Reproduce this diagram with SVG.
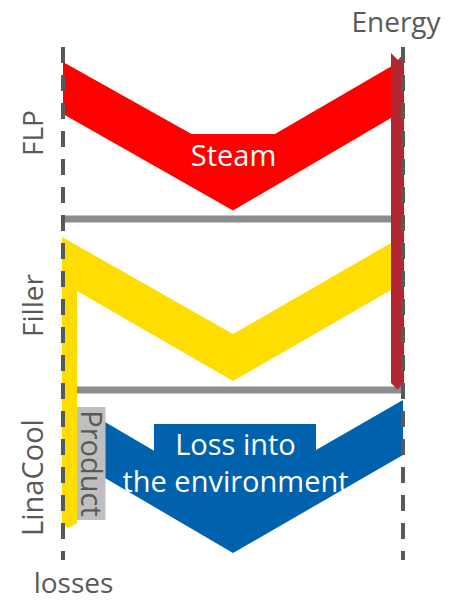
<svg xmlns="http://www.w3.org/2000/svg" width="449" height="601" viewBox="0 0 449 601">
<style>
.lbl{font-family:"Open Sans","Liberation Sans",sans-serif;font-size:29px;fill:#595959}
.wt{font-family:"Open Sans","Liberation Sans",sans-serif;font-size:29px;fill:#ffffff}
.axis{stroke:#595959;stroke-width:4;stroke-dasharray:16 12;fill:none}
.sep{stroke:#8c8c8c;stroke-width:7;fill:none}
</style>
<rect width="449" height="601" fill="#ffffff"/>
<g id="connectors">
<line class="sep" x1="63" y1="219" x2="391" y2="219"/>
<line class="sep" x1="63" y1="390" x2="403" y2="390"/>
</g>
<g id="steam">
<polygon points="63,62 191.5,134 275,134 391,66.5 391,118 233,210.5 63,114" fill="#ff0000"/>
<text class="wt" x="233.5" y="165.5" text-anchor="middle">Steam</text>
</g>
<g id="filler-flow">
<polygon points="62,237 233,334 391,243 391,290 233,381 77,291 77,523 68,528 62,524" fill="#ffdd00"/>
</g>
<g id="loss">
<polygon points="105,422 154,450.7 154,424 316,424 316,450 403,400 403,455 233,553 105,478" fill="#0062ad"/>
<text class="wt" x="235.5" y="455" text-anchor="middle">Loss into</text>
<text class="wt" x="235.5" y="491.5" text-anchor="middle">the environment</text>
</g>
<g id="energy-bar">
<polygon points="391,53 398,60 404,53 404,383 397.5,389.5 391,383" fill="#b2262f"/>
</g>
<g id="product">
<rect x="77" y="407" width="28.5" height="113" fill="#bfbfbf"/>
<text class="lbl" transform="translate(80.5,463.5) rotate(90)" text-anchor="middle">Product</text>
</g>
<g id="axes">
<line class="axis" x1="63" y1="47" x2="63" y2="560"/>
<line class="axis" x1="403" y1="47" x2="403" y2="560"/>
</g>
<g id="labels">
<text class="lbl" x="396" y="31.5" text-anchor="middle" style="font-size:28px">Energy</text>
<text class="lbl" x="73.5" y="593" text-anchor="middle" style="font-size:28px">losses</text>
<text class="lbl" transform="translate(43,133) rotate(-90)" text-anchor="middle" style="font-size:28px">FLP</text>
<text class="lbl" transform="translate(43,305.5) rotate(-90)" text-anchor="middle" style="font-size:28px">Filler</text>
<text class="lbl" transform="translate(43,477.5) rotate(-90)" text-anchor="middle">LinaCool</text>
</g>
</svg>
